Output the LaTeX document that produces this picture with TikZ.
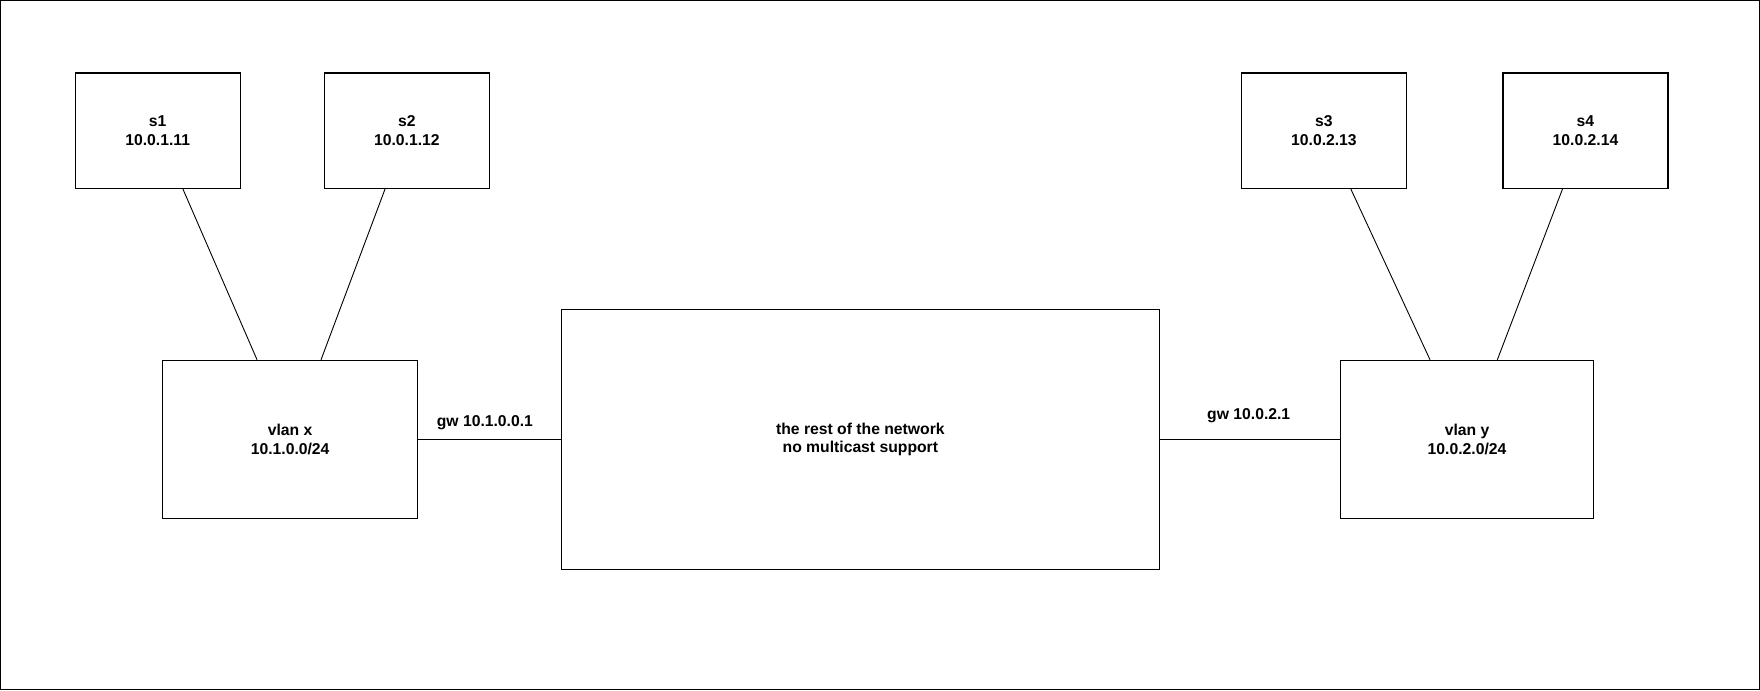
\documentclass[tikz,border=0pt]{standalone}
\usepackage{fontspec}
\setmainfont{Liberation Sans}
\begin{document}
\begin{tikzpicture}[x=1pt,y=-1pt,
  box/.style={draw=black,line width=1pt,rectangle,inner sep=0pt,align=center,
    font=\bfseries\fontsize{14}{16.8}\selectfont},
  link/.style={draw=black,line width=0.8pt},
  lbl/.style={inner sep=0pt,font=\bfseries\fontsize{14}{16.8}\selectfont}]
\useasboundingbox (0,0) rectangle (1568,615);
\draw[line width=1.2pt] (0.6,0.6) rectangle (1567.4,614.4);
\node[box,minimum width=147pt,minimum height=103pt] (s1) at (140.5,116.5) {s1\\10.0.1.11};
\node[box,minimum width=147pt,minimum height=103pt] (s2) at (362.5,116.5) {s2\\10.0.1.12};
\node[box,minimum width=147pt,minimum height=103pt] (s3) at (1179.5,116.5) {s3\\10.0.2.13};
\node[box,minimum width=147pt,minimum height=103pt] (s4) at (1412.5,116.5) {s4\\10.0.2.14};
\node[box,minimum width=227pt,minimum height=141pt] (vx) at (258.5,391.5) {vlan x\\10.1.0.0/24};
\node[box,minimum width=226pt,minimum height=141pt] (vy) at (1307,391.5) {vlan y\\10.0.2.0/24};
\node[box,minimum width=533pt,minimum height=231pt] (net) at (766.5,391.5) {the rest of the network\\no multicast support};
\draw[link] ([xshift=22.5pt]s1.south) -- ([xshift=-29.5pt]vx.north);
\draw[link] ([xshift=-19.5pt]s2.south) -- ([xshift=27.5pt]vx.north);
\draw[link] ([xshift=24pt]s3.south) -- ([xshift=-33pt]vy.north);
\draw[link] ([xshift=-20.5pt]s4.south) -- ([xshift=27pt]vy.north);
\draw[link] (vx.east) -- node[lbl,yshift=15pt,xshift=-4pt] (gw1) {gw 10.1.0.0.1} (net.west);
\draw[link] (net.east) -- node[lbl,yshift=21pt,xshift=-1pt] (gw2) {gw 10.0.2.1} (vy.west);
\end{tikzpicture}
\end{document}
